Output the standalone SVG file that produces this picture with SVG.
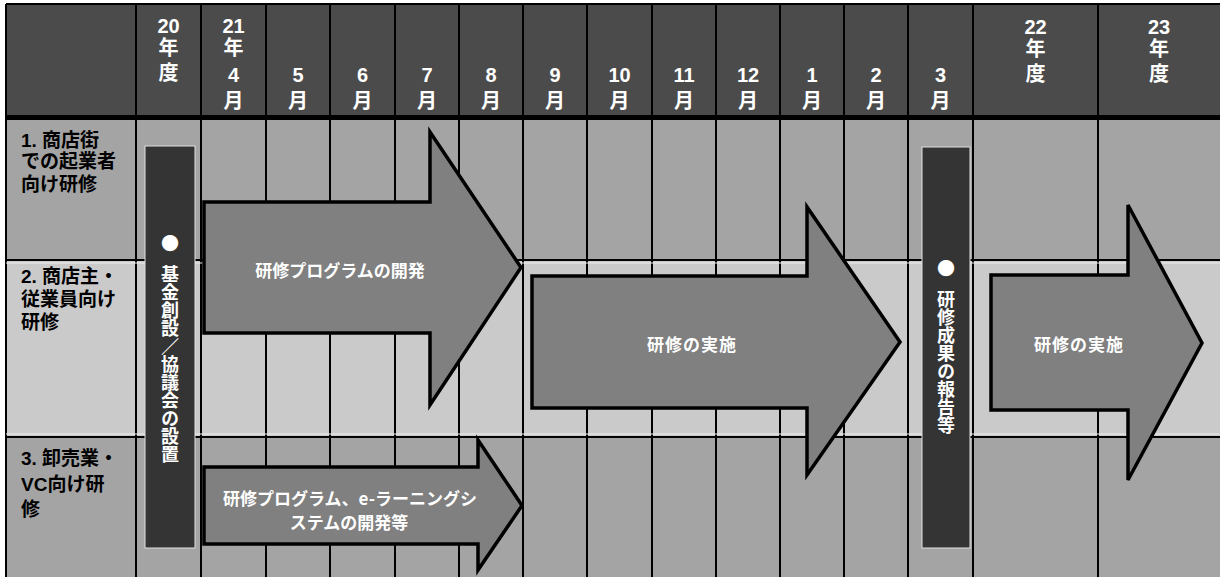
<svg xmlns="http://www.w3.org/2000/svg" width="1220" height="577" viewBox="0 0 1220 577">
<style>
.hd{fill:#4b4b4b}
.r1{fill:#a4a4a4}
.r2{fill:#cacaca}
.r3{fill:#a4a4a4}
.grid{stroke:#000;stroke-width:2;fill:none}
.ht{font-family:"Liberation Sans","Noto Sans CJK JP",sans-serif;font-weight:bold;font-size:20px;fill:#fff;text-anchor:middle}
.lt{font-family:"Liberation Sans","Noto Sans CJK JP",sans-serif;font-weight:bold;font-size:19px;fill:#000}
.bar{fill:#343434;stroke:#e0e0e0;stroke-width:1}
.vt{font-family:"Noto Sans CJK JP",sans-serif;font-weight:bold;font-size:18px;fill:#fff;writing-mode:vertical-rl;text-anchor:start}
.dot{font-family:"Noto Sans CJK JP",sans-serif;font-size:18px;fill:#fff;text-anchor:middle}
.arr{fill:#808080;stroke:#000;stroke-width:3.5;stroke-linejoin:miter}
.at{font-family:"Noto Sans CJK JP",sans-serif;font-weight:bold;font-size:17px;fill:#fff;text-anchor:middle}
</style>
<rect x="0" y="0" width="1220" height="577" fill="#fff"/>
<g id="background">
<rect class="hd" x="6" y="4" width="1214" height="113"/>
<rect class="r1" x="6" y="120" width="1214" height="140"/>
<rect class="r2" x="6" y="260" width="1214" height="177"/>
<rect class="r3" x="6" y="437" width="1214" height="140"/>
</g>
<g id="grid">
<path class="grid" d="M6 4H1220M6 4V577M6 260H1220M6 437H1220"/>
<path class="grid" d="M136 4V577M201 4V577M266 4V577M330 4V577M395 4V577M459 4V577M523 4V577M587 4V577M652 4V577M716 4V577M780 4V577M844 4V577M908 4V577M973 4V577M1098 4V577"/>
<path d="M6 263H1220M6 434H1220" stroke="#eee" stroke-width="1" fill="none"/>
<rect x="6" y="115" width="1214" height="5" fill="#000"/>
</g>
<g id="header">
<g id="h-20"><text class="ht" x="168.5" y="33">20</text><text class="ht" x="168.5" y="55">年</text><text class="ht" x="168.5" y="80">度</text></g>
<g id="h-4"><text class="ht" x="233.5" y="33">21</text><text class="ht" x="233.5" y="55">年</text><text class="ht" x="233.5" y="82">4</text><text class="ht" x="233.5" y="108">月</text></g>
<g id="h-5"><text class="ht" x="298" y="82">5</text><text class="ht" x="298" y="108">月</text></g>
<g id="h-6"><text class="ht" x="362.5" y="82">6</text><text class="ht" x="362.5" y="108">月</text></g>
<g id="h-7"><text class="ht" x="427" y="82">7</text><text class="ht" x="427" y="108">月</text></g>
<g id="h-8"><text class="ht" x="491" y="82">8</text><text class="ht" x="491" y="108">月</text></g>
<g id="h-9"><text class="ht" x="555" y="82">9</text><text class="ht" x="555" y="108">月</text></g>
<g id="h-10"><text class="ht" x="619.5" y="82">10</text><text class="ht" x="619.5" y="108">月</text></g>
<g id="h-11"><text class="ht" x="684" y="82">11</text><text class="ht" x="684" y="108">月</text></g>
<g id="h-12"><text class="ht" x="748" y="82">12</text><text class="ht" x="748" y="108">月</text></g>
<g id="h-1"><text class="ht" x="812" y="82">1</text><text class="ht" x="812" y="108">月</text></g>
<g id="h-2"><text class="ht" x="876" y="82">2</text><text class="ht" x="876" y="108">月</text></g>
<g id="h-3"><text class="ht" x="940.5" y="82">3</text><text class="ht" x="940.5" y="108">月</text></g>
<g id="h-22"><text class="ht" x="1035.5" y="34">22</text><text class="ht" x="1035.5" y="56">年</text><text class="ht" x="1035.5" y="81">度</text></g>
<g id="h-23"><text class="ht" x="1159" y="34">23</text><text class="ht" x="1159" y="56">年</text><text class="ht" x="1159" y="81">度</text></g>
</g>
<g id="row-labels">
<g id="label-1"><text class="lt" x="21" y="147">1. 商店街</text><text class="lt" x="21" y="168">での起業者</text><text class="lt" x="21" y="191">向け研修</text></g>
<g id="label-2"><text class="lt" x="21" y="283">2. 商店主・</text><text class="lt" x="21" y="306">従業員向け</text><text class="lt" x="21" y="329">研修</text></g>
<g id="label-3"><text class="lt" x="21" y="465">3. 卸売業・</text><text class="lt" x="21" y="491">VC向け研</text><text class="lt" x="21" y="516">修</text></g>
</g>
<g id="bar-kikin">
<rect class="bar" x="145" y="146" width="50" height="402"/>
<text class="dot" x="170" y="250">●</text>
<text class="vt" x="170" y="265">基金創設／協議会の設置</text>
</g>
<g id="bar-houkoku">
<rect class="bar" x="922" y="147" width="48" height="401"/>
<text class="dot" x="946" y="275">●</text>
<text class="vt" x="946" y="290">研修成果の報告等</text>
</g>
<g id="arrow-kaihatsu">
<path class="arr" d="M204 202H430V132L521 267.5L430 405V333H204Z"/>
<text class="at" x="340" y="277">研修プログラムの開発</text>
</g>
<g id="arrow-jisshi-1">
<path class="arr" d="M532 276H807V207L900 342L807 475V408H532Z"/>
<text class="at" x="692" y="351" letter-spacing="1">研修の実施</text>
</g>
<g id="arrow-jisshi-2">
<path class="arr" d="M991 275H1128V205L1202 343L1128 480V410H991Z"/>
<text class="at" x="1079" y="351" letter-spacing="1">研修の実施</text>
</g>
<g id="arrow-elearning">
<path class="arr" d="M204 467H478V440L522 505.5L478 570V544H204Z"/>
<text class="at" x="350" y="505">研修プログラム、e-ラーニングシ</text>
<text class="at" x="349" y="529">ステムの開発等</text>
</g>
<g id="connectors"/>
</svg>
